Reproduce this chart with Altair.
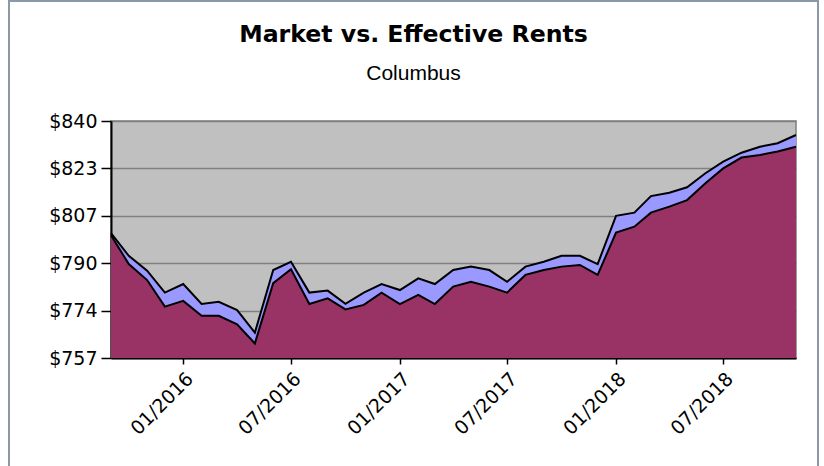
import altair as alt
import pandas as pd

months = [
    "2015-09-01", "2015-10-01", "2015-11-01", "2015-12-01",
    "2016-01-01", "2016-02-01", "2016-03-01", "2016-04-01", "2016-05-01", "2016-06-01",
    "2016-07-01", "2016-08-01", "2016-09-01", "2016-10-01", "2016-11-01", "2016-12-01",
    "2017-01-01", "2017-02-01", "2017-03-01", "2017-04-01", "2017-05-01", "2017-06-01",
    "2017-07-01", "2017-08-01", "2017-09-01", "2017-10-01", "2017-11-01", "2017-12-01",
    "2018-01-01", "2018-02-01", "2018-03-01", "2018-04-01", "2018-05-01", "2018-06-01",
    "2018-07-01", "2018-08-01", "2018-09-01", "2018-10-01", "2018-11-01",
]
market = [800.7, 792.8, 787.6, 779.9, 782.9, 775.9, 776.7, 773.8, 765.9, 787.8,
          790.7, 779.9, 780.6, 776.0, 779.9, 782.9, 780.8, 784.9, 782.9, 787.8,
          789.0, 787.8, 783.7, 789.0, 790.7, 792.8, 792.8, 789.9, 806.8, 807.9,
          813.7, 814.9, 816.8, 821.7, 825.8, 828.9, 831.0, 832.2, 835.1]
effective = [800.0, 789.9, 784.3, 775.0, 777.0, 771.8, 771.8, 768.8, 762.1, 783.2,
             788.1, 775.9, 777.9, 774.0, 775.6, 779.9, 775.9, 779.1, 775.9, 782.0,
             783.7, 782.0, 779.9, 786.1, 787.8, 789.0, 789.6, 786.1, 800.9, 803.0,
             807.9, 810.0, 812.3, 818.2, 823.4, 827.2, 828.1, 829.3, 831.0]
y_ticks = [757, 773.6, 790.2, 806.8, 823.4, 840]
y_min, y_max = 757, 840
x_ticks = ["2016-01-01", "2016-07-01", "2017-01-01", "2017-07-01", "2018-01-01", "2018-07-01"]

df = pd.DataFrame({"month": months, "market": market, "effective": effective})

x_enc = alt.X(
    "month:T",
    scale=alt.Scale(type="utc", domain=[months[0], months[-1]], nice=False),
    axis=alt.Axis(
        values=[alt.DateTime(year=int(s[:4]), month=int(s[5:7]), date=1, utc=True) for s in x_ticks],
        format="%m/%Y", labelAngle=-45, labelFontSize=19, labelFont="DejaVu Sans",
        labelColor="black", tickSize=6, tickColor="black", tickWidth=1.5,
        domainColor="black", domainWidth=2, grid=False, title=None, labelPadding=5,
    ),
)
y_scale = alt.Scale(domain=[y_min, y_max], nice=False, zero=False)
y_axis = alt.Axis(
    values=y_ticks, format="$.0f", labelFontSize=19, labelFont="DejaVu Sans",
    labelColor="black", tickSize=10, tickColor="black", tickWidth=1.5,
    domainColor="black", domainWidth=2, gridColor="#808080", gridWidth=1.5,
    title=None, labelPadding=4,
)

base = alt.Chart(df)
mk = base.mark_area(color="#9999FF", opacity=1, line=alt.OverlayMarkDef(color="black", strokeWidth=2)).encode(
    x=x_enc, y=alt.Y("market:Q", scale=y_scale, axis=y_axis), y2=alt.datum(y_min)
)
ef = base.mark_area(color="#993366", opacity=1, line=alt.OverlayMarkDef(color="black", strokeWidth=2)).encode(
    x=x_enc, y=alt.Y("effective:Q", scale=y_scale, axis=y_axis), y2=alt.datum(y_min)
)

frame_color = "#8a98a8"
frame = [
    alt.Chart(df).mark_rule(color=frame_color, strokeWidth=2).encode(
        x=alt.value(-102), y=alt.value(-121), y2=alt.value(345)),
    alt.Chart(df).mark_rule(color=frame_color, strokeWidth=2).encode(
        x=alt.value(707), y=alt.value(-121), y2=alt.value(345)),
    alt.Chart(df).mark_rule(color=frame_color, strokeWidth=2).encode(
        x=alt.value(-102), x2=alt.value(707), y=alt.value(-120)),
]

chart = alt.layer(mk, ef, *frame).properties(
    width=685, height=237,
    autosize=alt.AutoSizeParams(type="none"),
    padding={"left": 111, "top": 121, "right": 28, "bottom": 108},
    view=alt.ViewBackground(fill="#C0C0C0", stroke="#808080", strokeWidth=1.5),
    title=alt.TitleParams(
        "Market vs. Effective Rents", subtitle="Columbus",
        font="DejaVu Sans", fontSize=23.6, fontWeight="bold", color="black",
        subtitleFont="Liberation Sans", subtitleFontSize=21, subtitleColor="black",
        subtitlePadding=16, anchor="middle", offset=0, dx=-40, dy=85,
    ),
).configure(background="white")

chart.save("out.html", embed_options={"renderer": "svg", "actions": False})
